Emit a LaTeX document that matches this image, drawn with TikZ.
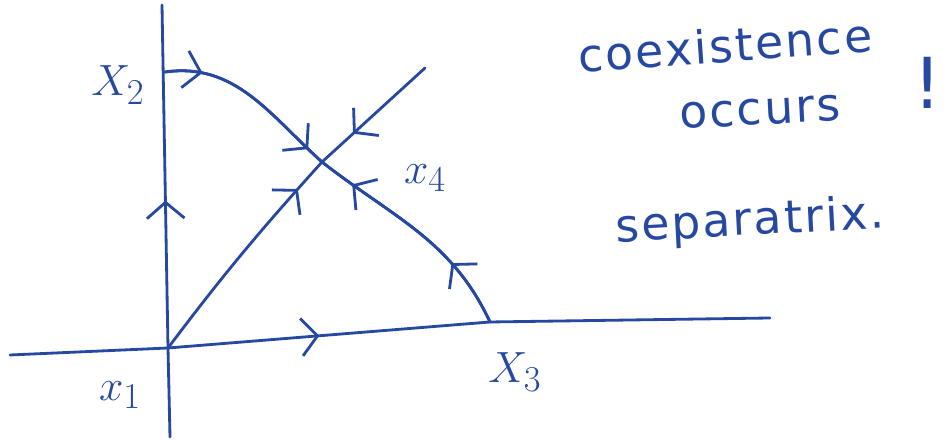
\documentclass[tikz,border=0pt]{standalone}
\usepackage{fontspec}
\setsansfont{DejaVu Sans}
\newfontfamily\handfont[LetterSpace=5]{DejaVu Sans}
\usepackage{tikz}
\usetikzlibrary{arrows.meta,positioning,decorations.markings}
\definecolor{inkblue}{RGB}{38,72,160}

\begin{document}
\begin{tikzpicture}[
  ink/.style={draw=inkblue,line width=1.6pt,line cap=round},
  chev/.style={-,ink,postaction={decorate},decoration={markings,mark=at position #1 with {\arrow[inkblue,line width=1.6pt]{Straight Barb[length=3.2mm,width=7.5mm]}}}},
  vehc/.style={-,ink,postaction={decorate},decoration={markings,mark=at position #1 with {\arrowreversed[inkblue,line width=1.6pt]{Straight Barb[length=3.2mm,width=7.5mm]}}}},
  lbl/.style={text=inkblue,font=\fontsize{30}{36}\selectfont,inner sep=0pt},
  note/.style={text=inkblue,font=\handfont\fontsize{26}{30}\selectfont,inner sep=0pt}
]
\useasboundingbox (0,0) rectangle (18.96,8.9);

% Fixed points
\coordinate (x1) at (3.36,1.94);
\coordinate (x2) at (3.30,7.46);
\coordinate (x3) at (9.80,2.46);
\coordinate (x4) at (6.44,5.66);

% Axis ends
\coordinate (hleft) at (0.2,1.8);
\coordinate (hright) at (15.4,2.54);
\coordinate (vbot) at (3.40,0.16);
\coordinate (vtop) at (3.24,8.8);
\coordinate (ne) at (8.5,7.54);

% Axes
\draw[ink] (hleft) -- (x1);
\draw[chev=0.47] (x1) -- (x3);
\draw[ink] (x3) -- (hright);
\draw[ink] (vbot) -- (x1);
\draw[chev=0.43] (x1) -- (vtop);

% Separatrix and unstable branches
\draw[chev=0.2] (x2) to[out=8,in=138] (x4);
\draw[chev=0.9] (x2) to[out=8,in=138] (x4);
\draw[chev=0.85] (x1) to[out=53,in=-132] (x4);
\draw[chev=0.7] (ne) -- (x4);
\draw[vehc=0.16] (x4) to[out=-38,in=115] (x3);
\draw[vehc=0.7] (x4) to[out=-38,in=115] (x3);

% Labels
\node[lbl] (lx1) at (2.4,1.0) {$x_1$};
\node[lbl] (lx2) at (2.36,7.2) {$X_2$};
\node[lbl] (lx3) at (10.3,1.46) {$X_3$};
\node[lbl] (lx4) at (8.5,5.34) {$x_4$};

% Notes
\node[note,rotate=4] (coex) at (14.5,8.0) {coexistence};
\node[note,rotate=3] (occ) at (15.2,6.66) {occurs};
\node[note,font=\handfont\fontsize{40}{46}\selectfont] (bang) at (18.55,7.25) {!};
\node[note,rotate=3] (sep) at (15.0,4.45) {separatrix.};

\end{tikzpicture}
\end{document}
